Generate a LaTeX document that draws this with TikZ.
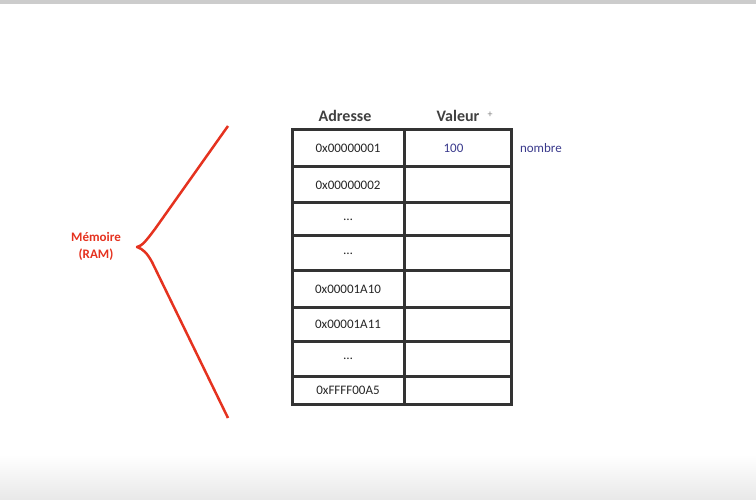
\documentclass[tikz,border=0pt]{standalone}
\usepackage{fontspec}
\setmainfont{Carlito}
\usetikzlibrary{positioning}
\definecolor{memred}{HTML}{E5321F}
\definecolor{valblue}{HTML}{3A3A8C}
\definecolor{gridgray}{HTML}{333333}

\begin{document}
\begin{tikzpicture}[x=1pt, y=-1pt,
        cell/.style={draw=gridgray, line width=3pt, inner sep=0pt, text=black!85, font=\fontsize{13}{15}\selectfont},
        head/.style={text=black!75, font=\bfseries\fontsize{16}{18}\selectfont},
        valtext/.style={text=valblue, font=\fontsize{13}{15}\selectfont}]

                \useasboundingbox (0,0) rectangle (756,500);

                % Frame:
                \fill[black!20] (0,0) rectangle (756,4);
                \shade[top color=white, bottom color=black!9] (0,455) rectangle (756,500);

                % Table:
                \node[head] (hAdr) at (345,116) {Adresse};
                \node[head] (hVal) at (458,116) {Valeur};
                \node[text=black!50, font=\fontsize{10}{10}\selectfont] (cursor) at (490,115) {+};
                \foreach \i/\top/\bot/\addr in {1/130/167/0x00000001, 2/167/203/0x00000002,
                        3/203/236/{\ldots}, 4/236/271/{\ldots}, 5/271/307/0x00001A10,
                        6/307/341/0x00001A11, 7/341/376/{\ldots}, 8/376/404/0xFFFF00A5}{
                    \pgfmathsetmacro{\rowmid}{(\top+\bot)/2}
                    \pgfmathsetmacro{\rowht}{\bot-\top}
                    \node[cell, minimum width=112pt, minimum height=\rowht pt] (a\i) at (348,\rowmid) {\addr};
                    \node[cell, minimum width=107pt, minimum height=\rowht pt] (v\i) at (457.5,\rowmid) {};
                }
                \node[valtext, xshift=-4pt] (val) at (v1) {100};
                \node[valtext, right=4pt of v1] (nombre) {nombre};

                % Brace:
                \draw[memred, line width=2.5pt, line join=round] (228,126) -- (155,229)
                    .. controls (146,241) and (142,246) .. (137,247)
                    .. controls (143,249) and (147,253) .. (152,262) -- (228,418);
                \node[text=memred, align=center, font=\bfseries\fontsize{13}{17}\selectfont] (mem) at (96,246) {Mémoire\\(RAM)};
            \end{tikzpicture}
\end{document}
